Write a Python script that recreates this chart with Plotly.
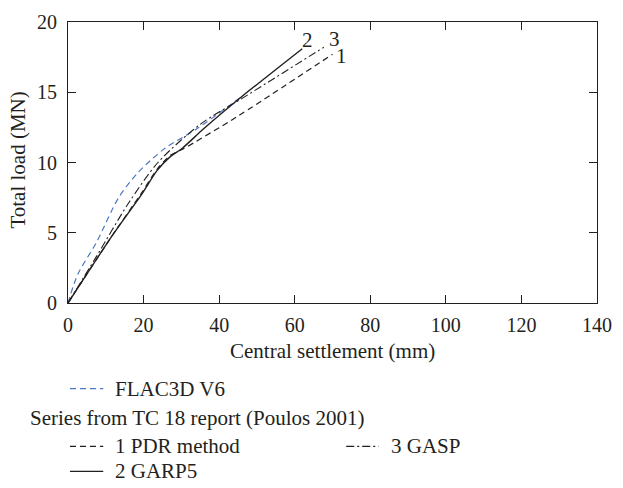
import plotly.graph_objects as go

# Load-settlement curves (settlement in mm, load in MN)
flac_x = [0, 2.6, 7.5, 13.4, 18.6, 25.6, 34.1, 46.5]
flac_y = [0, 2.05, 4.3, 7.5, 9.3, 11.0, 12.4, 14.8]

pdr_x = [0, 11.7, 19.4, 23.5, 27.0, 30.7, 44.4, 70.0]
pdr_y = [0, 4.8, 7.8, 9.5, 10.5, 11.0, 13.2, 17.7]

garp_x = [0, 11.7, 19.4, 23.5, 27.0, 30.2, 35.9, 46.5, 62.0]
garp_y = [0, 4.8, 7.7, 9.4, 10.4, 11.0, 12.4, 14.8, 18.1]

gasp_x = [0, 7.5, 16.0, 23.8, 34.9, 46.3, 67.7]
gasp_y = [0, 3.3, 7.1, 10.0, 12.7, 14.6, 18.2]

curve_labels = ["1", "2", "3"]
label_x = [70.5, 61.5, 68.5]
label_y = [17.6, 18.7, 18.8]

x_ticks = [0, 20, 40, 60, 80, 100, 120, 140]
y_ticks = [0, 5, 10, 15, 20]

INK = "#231f20"
BLUE = "#4a78c4"
FONT = "Liberation Serif"
TS = 21  # text size
DASH = "6px,4px"
DASHDOT = "8px,3px,2px,3px"

fig = go.Figure()
fig.add_trace(go.Scatter(x=flac_x, y=flac_y, mode="lines", line_shape="spline",
                         line=dict(color=BLUE, width=1.2, dash=DASH, smoothing=0.8)))
fig.add_trace(go.Scatter(x=pdr_x, y=pdr_y, mode="lines", line_shape="spline",
                         line=dict(color=INK, width=1.2, dash=DASH, smoothing=0.6)))
fig.add_trace(go.Scatter(x=garp_x, y=garp_y, mode="lines", line_shape="spline",
                         line=dict(color=INK, width=1.4, smoothing=0.6)))
fig.add_trace(go.Scatter(x=gasp_x, y=gasp_y, mode="lines", line_shape="spline",
                         line=dict(color=INK, width=1.1, dash=DASHDOT, smoothing=0.8)))

for t, lx, ly in zip(curve_labels, label_x, label_y):
    fig.add_annotation(x=lx, y=ly, text=t, showarrow=False, xanchor="left",
                       font=dict(family=FONT, size=TS, color=INK))

# Page geometry in pixels
W, H = 623, 488
ml, mr, mt, mb = 68, 15, 11, 185
pw, ph = W - ml - mr, H - mt - mb


def px(x):
    return (x - ml) / pw


def py(y):
    return (H - mb - y) / ph


def sample(x0, x1, y, color, dash):
    fig.add_shape(type="line", xref="paper", yref="paper",
                  x0=px(x0), x1=px(x1), y0=py(y), y1=py(y),
                  line=dict(color=color, width=1.2, dash=dash))


def text(x, y, s, anchor="left", angle=0):
    fig.add_annotation(xref="paper", yref="paper", x=px(x), y=py(y), text=s,
                       showarrow=False, xanchor=anchor, yanchor="middle",
                       textangle=angle,
                       font=dict(family=FONT, size=TS, color=INK))


# Axis titles
text(338, 353, "Central settlement (mm)", anchor="center")
text(17, 155, "Total load (MN)", anchor="center", angle=-90)

# Legend block below the plot
sample(70, 104, 392, BLUE, DASH)
text(114, 392, "FLAC3D V6")
text(27, 423, "Series from TC 18 report (Poulos 2001)")
sample(70, 104, 452, INK, DASH)
text(114, 452, "1 PDR method")
sample(352, 385, 452, INK, DASHDOT)
text(396, 452, "3 GASP")
sample(70, 104, 478, INK, "solid")
text(114, 478, "2 GARP5")

axis_common = dict(showline=True, linecolor=INK, linewidth=1.2, mirror="ticks",
                   ticks="inside", ticklen=8, tickcolor=INK, tickwidth=1.2,
                   showgrid=False, zeroline=False,
                   tickfont=dict(family=FONT, size=20, color=INK))

fig.update_layout(
    width=W, height=H, margin=dict(l=ml, r=mr, t=mt, b=mb),
    plot_bgcolor="white", paper_bgcolor="white", showlegend=False,
    xaxis=dict(range=[0, 140], tickvals=x_ticks, ticklabelstandoff=4, **axis_common),
    yaxis=dict(range=[0, 20], tickvals=y_ticks, ticklabelstandoff=6, **axis_common),
)

fig.write_html("out.html")
